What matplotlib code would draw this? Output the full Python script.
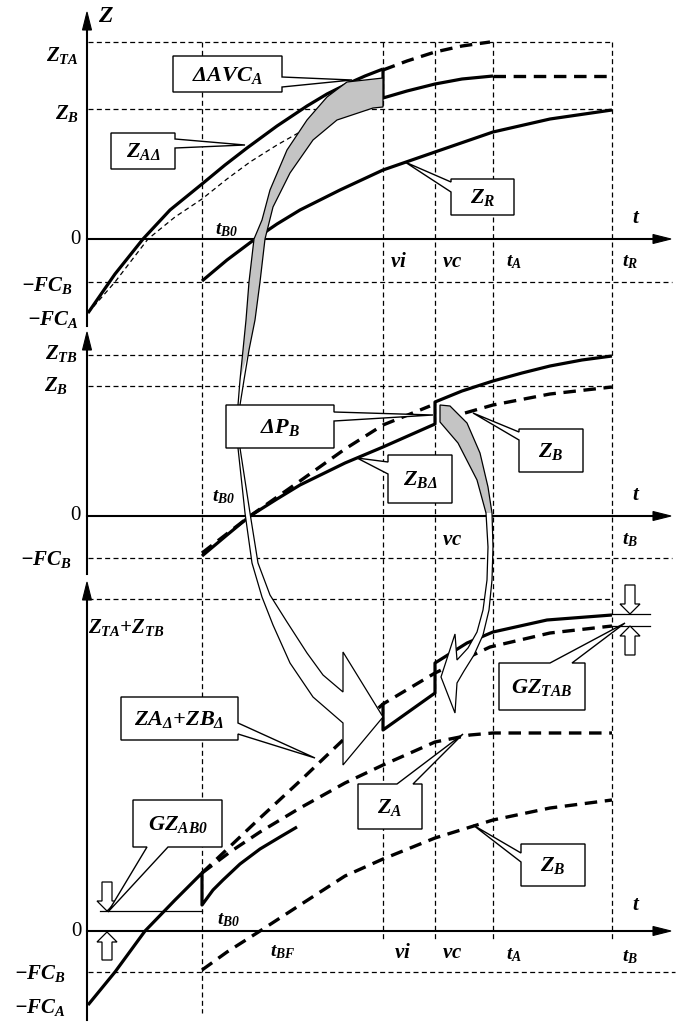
import matplotlib
matplotlib.use("Agg")
import matplotlib.pyplot as plt
from matplotlib.patches import Polygon

plt.rcParams['mathtext.fontset'] = 'custom'
plt.rcParams['mathtext.rm'] = 'Liberation Serif:italic:bold'
plt.rcParams['mathtext.it'] = 'Liberation Serif:italic:bold'
plt.rcParams['mathtext.bf'] = 'Liberation Serif:italic:bold'
plt.rcParams['lines.scale_dashes'] = False

# ---------------- data (t and Z in schematic units) ----------------
T_B0, T_BF, T_VI, T_VC, T_A, T_B = 115, 173, 296, 348, 406, 525
T_END = 583

# panel 1
Z_TA, Z_B1, FC_B1, FC_A1 = 197, 130, 43, 74
ZAD_T = [1, 28, 56, 83, 115, 138, 160, 190, 220, 240, 260, 278, 296]
ZAD_Z = [-74, -35, 0, 29, 55, 74, 91, 113, 133, 145, 155, 163, 170]
ZAD2_T = [296, 296, 320, 348, 375, 406]
ZAD2_Z = [170, 141, 148, 155, 160, 163]
ZAD_FLAT_T = [406, 525]
ZAD_FLAT_Z = [163, 163]
ZA_UP_T = [296, 320, 348, 375, 403]
ZA_UP_Z = [169, 178, 187, 193, 197]
ZA_REF_T = [1, 28, 61, 88, 115, 140, 163, 190, 213]
ZA_REF_Z = [-74, -43, 0, 22, 40, 60, 77, 94, 107]
ZR_T = [115, 140, 168, 190, 213, 253, 296, 348, 406, 463, 525]
ZR_Z = [-42, -21, 0, 15, 29, 49, 69, 87, 107, 120, 129]

# panel 2
Z_TB, Z_B2, FC_B2 = 161, 130, 42
ZBD_T = [115, 140, 163, 190, 213, 258, 296, 348, 348, 375, 406, 435, 463, 495, 525]
ZBD_Z = [-40, -19, 0, 17, 31, 53, 69, 92, 114, 125, 135, 143, 150, 156, 160]
ZB2A_T = [115, 163, 213, 258, 296, 343]
ZB2A_Z = [-37, 0, 35, 67, 91, 110]
ZB2B_T = [378, 406, 463, 525]
ZB2B_Z = [103, 111, 122, 129]

# panel 3
Z_TOP3, FC_B3, FC_A3 = 332, 41, 74
S3A_T = [1, 28, 58, 88, 115, 115, 126, 136, 153, 173, 193, 210]
S3A_Z = [-74, -41, 0, 31, 58, 26, 41, 51, 67, 82, 94, 104]
S3B_T = [296, 296, 348, 348, 380, 406, 460, 525]
S3B_Z = [228, 201, 238, 268, 288, 299, 311, 316]
SUM_D_T = [115, 173, 213, 256, 296, 348, 403, 463, 525]
SUM_D_Z = [58, 113, 150, 191, 227, 258, 284, 298, 305]
ZA3_T = [115, 143, 173, 213, 258, 296, 348, 383, 406, 525]
ZA3_Z = [58, 79, 99, 123, 148, 166, 189, 196, 198, 198]
ZB3_T = [115, 140, 173, 213, 258, 296, 348, 406, 463, 525]
ZB3_Z = [-39, -21, 0, 26, 55, 72, 93, 111, 123, 131]

BASES = [239, 516, 931]   # pixel row of each panel's t axis
X0 = 87                   # pixel column of the Z axis

# ---------------- figure ----------------
W, H = 691, 1031
fig = plt.figure(figsize=(W / 100, H / 100), dpi=100)
fig.patch.set_facecolor('white')

def panel_axes(base):
    ax = fig.add_axes([0, 0, 1, 1])
    ax.set_xlim(-X0, W - X0)
    ax.set_ylim(base - H, base)
    ax.axis('off')
    ax.patch.set_alpha(0)
    return ax

ax1, ax2, ax3 = [panel_axes(b) for b in BASES]
ov = fig.add_axes([0, 0, 1, 1])
ov.set_xlim(0, W)
ov.set_ylim(H, 0)
ov.axis('off')
ov.patch.set_alpha(0)

THIN = dict(color='black', lw=0.9, dashes=(3.6, 2.4), zorder=1)
THICK = dict(color='black', lw=2.3, solid_capstyle='butt', solid_joinstyle='round', zorder=3)
THICKD = dict(color='black', lw=2.4, dashes=(9, 5.5), zorder=3)
AXL = dict(color='black', lw=1.5, zorder=2)

SER = dict(family='Liberation Serif', weight='bold', style='italic')

def txt(x, y, s, size=13, ha='left', **kw):
    ov.text(x, y, s, fontsize=size, ha=ha, va='center', zorder=8, **SER, **kw)

def zero(x, y, ha='right'):
    ov.text(x, y, '0', fontsize=15, ha=ha, va='center', family='Liberation Serif', zorder=8)

def tri(pts, fc='black', ec='black', lw=0.8, z=6):
    ov.add_patch(Polygon(pts, closed=True, fc=fc, ec=ec, lw=lw, zorder=z))

# ---------- vertical guide lines (panel 1 coords) ----------
ax1.plot([T_B0, T_B0], [Z_TA, 239 - 1013], **THIN)
for tv in (T_VI, T_VC, T_A, T_B):
    ax1.plot([tv, tv], [Z_TA, 239 - 942], **THIN)

# ---------- panel 1 ----------
ax1.plot([1, T_B], [Z_TA, Z_TA], **THIN)
ax1.plot([1, T_B], [Z_B1, Z_B1], **THIN)
ax1.plot([1, T_END + 2], [-FC_B1, -FC_B1], **THIN)
ax1.plot([0, 0], [239 - 326, 239 - 26], **AXL)
ax1.plot([0, T_END - 10], [0, 0], **AXL)
tri([(82.5, 30), (87, 12), (91.5, 30)])
tri([(653, 234.5), (671, 239), (653, 243.5)])

ax1.plot(ZAD_T, ZAD_Z, **{**THICK, 'zorder': 5})
ax1.plot(ZAD2_T, ZAD2_Z, **{**THICK, 'zorder': 5})
ax1.plot(ZAD_FLAT_T, ZAD_FLAT_Z, **THICKD)
ax1.plot(ZA_UP_T, ZA_UP_Z, **THICKD)
ax1.plot(ZA_REF_T, ZA_REF_Z, color='black', lw=0.9, dashes=(3.5, 2.5), zorder=3)
ax1.plot(ZR_T, ZR_Z, **THICK)

# ---------- panel 2 ----------
ax2.plot([1, T_B], [Z_TB, Z_TB], **THIN)
ax2.plot([1, T_B], [Z_B2, Z_B2], **THIN)
ax2.plot([1, T_END + 2], [-FC_B2, -FC_B2], **THIN)
ax2.plot([0, 0], [516 - 574, 516 - 348], **AXL)
ax2.plot([0, T_END - 10], [0, 0], **AXL)
tri([(82.5, 350), (87, 332), (91.5, 350)])
tri([(653, 511.5), (671, 516), (653, 520.5)])
ax2.plot(ZBD_T, ZBD_Z, **{**THICK, 'zorder': 5})
ax2.plot(ZB2A_T, ZB2A_Z, **{**THICKD, 'zorder': 5})
ax2.plot(ZB2B_T, ZB2B_Z, **{**THICKD, 'zorder': 5})

# ---------- panel 3 ----------
ax3.plot([1, T_B], [Z_TOP3, Z_TOP3], **THIN)
ax3.plot([1, T_END + 5], [-FC_B3, -FC_B3], **THIN)
ax3.plot([0, 0], [931 - 1020, 931 - 598], **AXL)
ax3.plot([0, T_END - 10], [0, 0], **AXL)
tri([(82.5, 600), (87, 582), (91.5, 600)])
tri([(653, 926.5), (671, 931), (653, 935.5)])
ax3.plot(S3A_T, S3A_Z, **THICK)
ax3.plot(S3B_T, S3B_Z, **{**THICK, 'zorder': 5})
ax3.plot(SUM_D_T, SUM_D_Z, **THICKD)
ax3.plot(ZA3_T, ZA3_Z, **THICKD)
ax3.plot(ZB3_T, ZB3_Z, **THICKD)

# GZ_AB0 marker
ov.plot([100, 202], [911, 911], color='black', lw=0.9, zorder=4)
tri([(102, 882), (112, 882), (112, 901), (117, 901), (107, 911), (97, 901), (102, 901)], fc='white', lw=0.9)
tri([(102, 960), (112, 960), (112, 942), (117, 942), (107, 932), (97, 942), (102, 942)], fc='white', lw=0.9)
# GZ_TAB marker
ov.plot([612, 650], [614, 614], color='black', lw=0.9, zorder=4)
ov.plot([612, 650], [626, 626], color='black', lw=0.9, zorder=4)
tri([(625, 585), (635, 585), (635, 604), (640, 604), (630, 614), (620, 604), (625, 604)], fc='white', lw=0.9)
tri([(625, 655), (635, 655), (635, 636), (640, 636), (630, 626), (620, 636), (625, 636)], fc='white', lw=0.9)

# ---------- big curved arrows ----------
outer1 = [(347, 82), (327, 97), (307, 120), (287, 150), (270, 190), (262, 220), (254, 239),
          (249, 282), (246, 320), (243, 350), (240, 380), (238, 405), (238, 448), (245, 513),
          (252, 563), (262, 597), (273, 625), (290, 663), (313, 697), (343, 723)]
inner1 = [(343, 692), (323, 675), (307, 653), (287, 622), (270, 595), (258, 563), (250, 513),
          (240, 448), (240, 405), (244, 380), (249, 350), (255, 320), (260, 282), (265, 239),
          (273, 207), (290, 173), (313, 140), (337, 120), (373, 108), (383, 107)]
head1 = [(343, 765), (383, 717), (343, 652)]
full1 = [(383, 78)] + outer1 + head1 + inner1
ov.add_patch(Polygon(full1, closed=True, fc='white', ec='none', zorder=4))
gray1 = [(383, 78)] + outer1[:11] + inner1[-10:]
ov.add_patch(Polygon(gray1, closed=True, fc='#c4c4c4', ec='none', zorder=4))
ov.add_patch(Polygon(full1, closed=True, fc='none', ec='black', lw=0.9, zorder=4))

outer2 = [(440, 405), (450, 406), (467, 423), (480, 453), (488, 487), (492, 513), (493, 547),
          (492, 580), (489, 610), (483, 635), (474, 655), (464, 671), (457, 683)]
inner2 = [(457, 660), (468, 648), (477, 632), (483, 610), (487, 580), (488, 547), (486, 513),
          (477, 480), (458, 443), (440, 422)]
head2 = [(455, 713), (441, 677), (455, 634)]
full2 = outer2 + head2 + inner2
ov.add_patch(Polygon(full2, closed=True, fc='white', ec='none', zorder=4))
gray2 = outer2[:6] + inner2[-4:]
ov.add_patch(Polygon(gray2, closed=True, fc='#c4c4c4', ec='none', zorder=4))
ov.add_patch(Polygon(full2, closed=True, fc='none', ec='black', lw=0.9, zorder=4))

# ---------- callouts ----------
def callout(x0, y0, x1, y1, side, a, b, tip, text, size=16):
    if side == 'right':
        v = [(x0, y0), (x1, y0), (x1, a), tip, (x1, b), (x1, y1), (x0, y1)]
    elif side == 'left':
        v = [(x0, y0), (x1, y0), (x1, y1), (x0, y1), (x0, b), tip, (x0, a)]
    elif side == 'top':
        v = [(x0, y0), (a, y0), tip, (b, y0), (x1, y0), (x1, y1), (x0, y1)]
    else:
        v = [(x0, y0), (x1, y0), (x1, y1), (b, y1), tip, (a, y1), (x0, y1)]
    ov.add_patch(Polygon(v, closed=True, fc='white', ec='black', lw=1.0, zorder=6))
    ov.text((x0 + x1) / 2, (y0 + y1) / 2 + 1, text, fontsize=size, ha='center', va='center',
            zorder=8, **SER)

callout(173, 56, 282, 92, 'right', 77, 87, (352, 80), r'$\Delta AVC_A$')
callout(111, 133, 175, 169, 'right', 139, 148, (245, 145), r'$Z_{A\Delta}$')
callout(451, 179, 514, 215, 'left', 182, 192, (405, 162), r'$Z_R$')
callout(226, 405, 334, 448, 'right', 412, 421, (433, 415), r'$\Delta P_B$')
callout(388, 455, 452, 503, 'left', 462, 474, (357, 458), r'$Z_{B\Delta}$')
callout(519, 429, 583, 472, 'left', 432, 440, (473, 413), r'$Z_B$')
callout(121, 697, 238, 740, 'right', 723, 734, (315, 758), r'$ZA_\Delta$+$ZB_\Delta$')
callout(133, 800, 222, 847, 'bottom', 147, 168, (108, 912), r'$GZ_{AB0}$')
callout(358, 784, 422, 829, 'top', 397, 413, (463, 734), r'$Z_A$')
callout(521, 844, 585, 886, 'left', 853, 862, (473, 825), r'$Z_B$')
callout(499, 663, 585, 710, 'top', 550, 572, (625, 623), r'$GZ_{TAB}$')

# ---------- labels ----------
txt(98, 17, r'$Z$', 17)
txt(79, 56, r'$Z_{TA}$', 15, ha='right')
txt(79, 113, r'$Z_B$', 15, ha='right')
zero(81, 239)
txt(73, 285, r'$-FC_B$', 15, ha='right')
txt(79, 320, r'$-FC_A$', 15, ha='right')
txt(632, 218, r'$t$', 15)
txt(215, 230, r'$t_{B0}$', 14)
txt(390, 262, r'$vi$', 15)
txt(442, 262, r'$vc$', 15)
txt(506, 262, r'$t_A$', 14)
txt(622, 262, r'$t_R$', 14)

txt(78, 354, r'$Z_{TB}$', 15, ha='right')
txt(68, 386, r'$Z_B$', 15, ha='right')
zero(81, 516)
txt(72, 560, r'$-FC_B$', 15, ha='right')
txt(632, 495, r'$t$', 15)
txt(212, 497, r'$t_{B0}$', 14)
txt(442, 540, r'$vc$', 15)
txt(622, 540, r'$t_B$', 14)

txt(88, 628, r'$Z_{TA}$+$Z_{TB}$', 15)
zero(82, 932)
txt(66, 973, r'$-FC_B$', 15, ha='right')
txt(66, 1007, r'$-FC_A$', 15, ha='right')
txt(632, 905, r'$t$', 15)
txt(217, 920, r'$t_{B0}$', 14)
txt(270, 952, r'$t_{BF}$', 14)
txt(394, 953, r'$vi$', 15)
txt(442, 953, r'$vc$', 15)
txt(506, 955, r'$t_A$', 14)
txt(622, 957, r'$t_B$', 14)

fig.savefig('out.png', dpi=100, facecolor='white')
